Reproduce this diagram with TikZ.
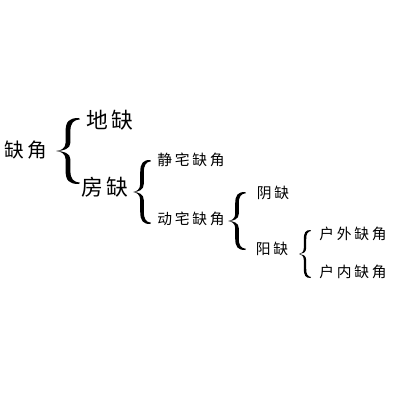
\documentclass[tikz,border=0pt]{standalone}
\usepackage{fontspec}
\newfontfamily\cjk[LetterSpace=18]{Noto Sans CJK SC}
\tikzset{
  curly/.pic={
    % filled brace, tip at origin, half height 1, width 1
    \fill (0.95,1) .. controls (0.55,1) and (0.40,0.9) .. (0.40,0.6)
      -- (0.40,0.25) .. controls (0.40,0.08) and (0.2,0.01) .. (0,0)
      .. controls (0.2,-0.01) and (0.40,-0.08) .. (0.40,-0.25)
      -- (0.40,-0.6) .. controls (0.40,-0.9) and (0.55,-1) .. (0.95,-1)
      -- (1,-0.96) .. controls (0.72,-0.94) and (0.60,-0.85) .. (0.60,-0.6)
      -- (0.60,-0.25) .. controls (0.60,-0.06) and (0.3,-0.01) .. (0.05,0)
      .. controls (0.3,0.01) and (0.60,0.06) .. (0.60,0.25)
      -- (0.60,0.6) .. controls (0.60,0.85) and (0.72,0.94) .. (1,0.96) -- cycle;
  }
}
\begin{document}
\begin{tikzpicture}[x=0.025cm, y=-0.025cm,
    word/.style={inner sep=0pt, font=\cjk\fontsize{14}{16}\selectfont},
    big/.style={inner sep=0pt, font=\cjk\fontsize{15.5}{17}\selectfont},
    small/.style={inner sep=0pt, font=\cjk\fontsize{10.5}{12}\selectfont}]
  \useasboundingbox (0,0) rectangle (400,400);
  % first level
  \node[word] (queJiao) at (26,150) {缺角};
  \pic[xscale=24, yscale=33] at (56,151) {curly};
  \node[big] (diQue) at (110,120) {地缺};
  \node[big] (fangQue) at (105,187) {房缺};
  % second level
  \pic[xscale=18, yscale=32] at (133,192) {curly};
  \node[small] (jingZhai) at (191,160) {静宅缺角};
  \node[small] (dongZhai) at (191,219) {动宅缺角};
  % third level
  \pic[xscale=18, yscale=29] at (228,221) {curly};
  \node[small] (yinQue) at (273,193) {阴缺};
  \node[small] (yangQue) at (272,249) {阳缺};
  % fourth level
  \pic[xscale=12, yscale=24] at (299,254) {curly};
  \node[small] (huWai) at (353,234) {户外缺角};
  \node[small] (huNei) at (353,272) {户内缺角};
\end{tikzpicture}
\end{document}
